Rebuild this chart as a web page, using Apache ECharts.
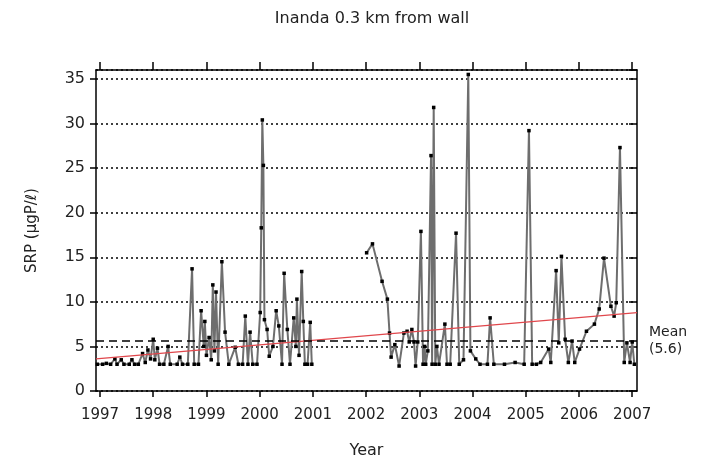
<!DOCTYPE html>
<html>
<head>
<meta charset="utf-8">
<script src="https://cdn.jsdelivr.net/npm/echarts@6/dist/echarts.min.js"></script>
<style>
  html, body { margin: 0; padding: 0; background: #fff; }
  #chart { width: 706px; height: 464px; }
</style>
</head>
<body>
<div id="chart"></div>
<script>
// sampling dates (decimal year) and SRP readings
// null = no sampling between early 2001 and 2002
const sampleYear = [
  1996.95, 1997.05, 1997.12, 1997.2, 1997.28, 1997.32, 1997.4, 1997.45, 1997.55, 1997.6,
  1997.65, 1997.72, 1997.8, 1997.85, 1997.9, 1997.95, 1998.0, 1998.03, 1998.08, 1998.12,
  1998.2, 1998.28, 1998.32, 1998.45, 1998.5, 1998.55, 1998.65, 1998.73, 1998.77, 1998.85,
  1998.9, 1998.95, 1998.97, 1999.0, 1999.05, 1999.09, 1999.12, 1999.15, 1999.18, 1999.22,
  1999.29, 1999.35, 1999.42, 1999.54, 1999.6, 1999.68, 1999.73, 1999.78, 1999.82, 1999.87,
  1999.95, 2000.01, 2000.03, 2000.05, 2000.07, 2000.09, 2000.14, 2000.18, 2000.25, 2000.31,
  2000.36, 2000.42, 2000.46, 2000.52, 2000.57, 2000.64, 2000.68, 2000.7, 2000.74, 2000.79,
  2000.82, 2000.85, 2000.9, 2000.95, 2000.98,
  2001.5,
  2002.01, 2002.12, 2002.3, 2002.4, 2002.44, 2002.47, 2002.54, 2002.62, 2002.71, 2002.77,
  2002.81, 2002.86, 2002.9, 2002.93, 2002.97, 2003.03, 2003.07, 2003.1, 2003.12, 2003.16,
  2003.22, 2003.24, 2003.27, 2003.3, 2003.33, 2003.37, 2003.48, 2003.52, 2003.58, 2003.69,
  2003.75, 2003.83, 2003.92, 2003.96, 2004.06, 2004.14, 2004.28, 2004.33, 2004.4, 2004.6,
  2004.8, 2004.97, 2005.06, 2005.12, 2005.2, 2005.28, 2005.43, 2005.47, 2005.57, 2005.62,
  2005.67, 2005.74, 2005.8, 2005.87, 2005.92, 2006.01, 2006.14, 2006.29, 2006.38, 2006.47,
  2006.6, 2006.66, 2006.7, 2006.77, 2006.85, 2006.9, 2006.96, 2007.0, 2007.04
];
const sampleSrp = [
  3.0, 3.0, 3.1, 3.0, 3.6, 3.0, 3.5, 3.0, 3.0, 3.5,
  3.0, 3.0, 4.2, 3.2, 4.6, 3.6, 5.8, 3.5, 4.8, 3.0,
  3.0, 5.0, 3.0, 3.0, 3.8, 3.0, 3.0, 13.7, 3.0, 3.0,
  9.0, 5.0, 7.8, 4.0, 6.0, 3.5, 11.9, 4.5, 11.1, 3.0,
  14.5, 6.6, 3.0, 4.9, 3.0, 3.0, 8.4, 3.0, 6.6, 3.0,
  3.0, 8.8, 18.3, 30.4, 25.3, 8.0, 6.9, 3.9, 5.0, 9.0,
  7.3, 3.0, 13.2, 6.9, 3.0, 8.2, 5.0, 10.3, 4.0, 13.4,
  7.8, 3.0, 3.0, 7.7, 3.0,
  null,
  15.5, 16.5, 12.3, 10.3, 6.5, 3.8, 5.2, 2.8, 6.5, 6.7,
  5.5, 6.9, 5.5, 2.8, 5.5, 17.9, 3.0, 5.0, 3.0, 4.5,
  26.4, 3.0, 31.8, 3.0, 5.0, 3.0, 7.5, 3.0, 3.0, 17.7,
  3.0, 3.5, 35.5, 4.5, 3.6, 3.0, 3.0, 8.2, 3.0, 3.0,
  3.2, 3.0, 29.2, 3.0, 3.0, 3.2, 4.7, 3.2, 13.5, 5.4,
  15.1, 5.8, 3.2, 5.6, 3.2, 4.7, 6.7, 7.5, 9.2, 14.9,
  9.5, 8.4, 9.9, 27.3, 3.2, 5.4, 3.2, 5.5, 3.0
];

// linear trend end points and overall mean
const trendYear = [1996.925, 2007.09];
const trendSrp = [3.6, 8.8];
const meanSrp = 5.6;

const yearTicks = [1997, 1998, 1999, 2000, 2001, 2002, 2003, 2004, 2005, 2006, 2007];

const FONT = "DejaVu Sans";
const chart = echarts.init(document.getElementById("chart"));

const xBase = {
  type: "value",
  min: trendYear[0],
  max: trendYear[1],
  splitLine: { show: false },
  axisLine: { show: true, onZero: false, lineStyle: { color: "#000", width: 1.5 } },
};
const yBase = {
  type: "value",
  min: 0,
  max: 36,
  interval: 5,
  axisLine: { show: true, lineStyle: { color: "#000", width: 1.5 } },
};

chart.setOption({
  animation: false,
  backgroundColor: "#fff",
  title: {
    text: "Inanda 0.3 km from wall",
    left: 367,
    top: 6,
    textAlign: "center",
    textStyle: { fontFamily: FONT, fontSize: 16, fontWeight: "normal", color: "#222" },
  },
  grid: { left: 96, right: 69, top: 70, bottom: 72 },
  xAxis: [
    {
      ...xBase,
      position: "bottom",
      name: "Year",
      nameLocation: "middle",
      nameGap: 52,
      nameTextStyle: { fontFamily: FONT, fontSize: 16, color: "#222" },
      axisTick: { show: true, customValues: yearTicks, length: 6, lineStyle: { color: "#000", width: 1.5 } },
      axisLabel: {
        customValues: yearTicks,
        margin: 17,
        fontFamily: FONT,
        fontSize: 15,
        color: "#222",
        formatter: (v) => String(Math.round(v)),
      },
    },
    {
      ...xBase,
      position: "top",
      axisTick: { show: true, customValues: yearTicks, length: 8, lineStyle: { color: "#000", width: 1.5 } },
      axisLabel: { show: false },
    },
  ],
  yAxis: [
    {
      ...yBase,
      position: "left",
      name: "SRP (µgP/ℓ)",
      nameLocation: "middle",
      nameGap: 56,
      nameTextStyle: { fontFamily: FONT, fontSize: 15, color: "#222" },
      axisTick: { show: true, length: 6, lineStyle: { color: "#000", width: 1.5 } },
      axisLabel: { margin: 11, fontFamily: FONT, fontSize: 16, color: "#222" },
      splitLine: { show: true, lineStyle: { color: "#000", width: 1.5, type: [2, 3] } },
    },
    {
      ...yBase,
      position: "right",
      axisTick: { show: true, inside: true, length: 8, lineStyle: { color: "#000", width: 1.5 } },
      axisLabel: { show: false },
      splitLine: { show: false },
    },
  ],
  series: [
    {
      name: "SRP",
      type: "line",
      xAxisIndex: 0,
      yAxisIndex: 0,
      data: sampleYear.map((yr, i) => [yr, sampleSrp[i]]),
      connectNulls: false,
      symbol: "rect",
      symbolSize: 3.5,
      itemStyle: { color: "#000" },
      lineStyle: { color: "#6e6e6e", width: 2 },
      z: 3,
      markLine: {
        silent: true,
        symbol: "none",
        data: [{ yAxis: meanSrp }],
        lineStyle: { color: "#000", width: 1.5, type: [8, 5] },
        label: {
          show: true,
          position: "end",
          distance: 12,
          padding: [22, 0, 0, 0],
          formatter: "Mean\n(" + meanSrp + ")",
          fontFamily: FONT,
          fontSize: 14,
          lineHeight: 17,
          color: "#222",
          align: "left",
        },
      },
    },
    {
      name: "Trend",
      type: "line",
      xAxisIndex: 0,
      yAxisIndex: 0,
      data: trendYear.map((yr, i) => [yr, trendSrp[i]]),
      symbol: "none",
      lineStyle: { color: "#e0474c", width: 1.2 },
      z: 4,
    },
  ],
});
</script>
</body>
</html>
